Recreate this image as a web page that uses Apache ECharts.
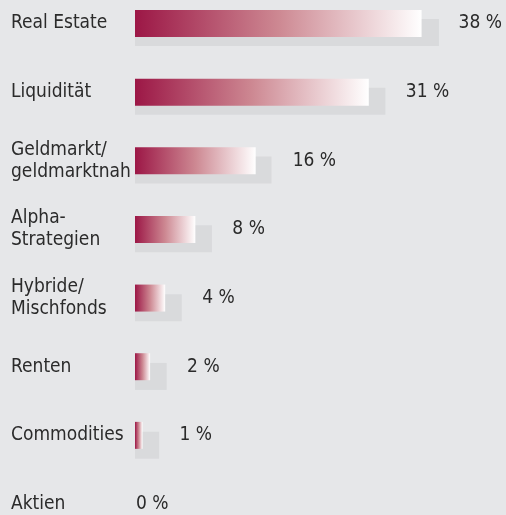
<!DOCTYPE html>
<html>
<head>
<meta charset="utf-8">
<script src="https://cdn.jsdelivr.net/npm/echarts@6/dist/echarts.min.js"></script>
<style>
  html, body { margin: 0; padding: 0; background: #e6e7e9; }
  #chart { width: 506px; height: 515px; }
</style>
</head>
<body>
<div id="chart"></div>
<script>
// categories, top to bottom
const categories = [
  'Real Estate',
  'Liquidität',
  'Geldmarkt/\ngeldmarktnah',
  'Alpha-\nStrategien',
  'Hybride/\nMischfonds',
  'Renten',
  'Commodities',
  'Aktien'
];
// share in percent
const shares = [38, 31, 16, 8, 4, 2, 1, 0];
// where the grey shadow bar ends (same scale)
const shadowEnds = [40.3, 33.2, 18.1, 10.2, 6.2, 4.2, 3.2, 0];

const chart = echarts.init(document.getElementById('chart'));

const textColor = '#2b2b2b';
const font = '"DejaVu Sans Condensed", "DejaVu Sans", sans-serif';

const option = {
  backgroundColor: '#e6e7e9',
  animation: false,
  grid: [
    { left: 135, right: 9, top: 23.5, bottom: 10 },
    { left: 135, right: 9, top: 32.5, bottom: 1 }
  ],
  xAxis: [
    { type: 'value', gridIndex: 0, min: 0, max: 48, show: false },
    { type: 'value', gridIndex: 1, min: 0, max: 48, show: false }
  ],
  yAxis: [
    {
      type: 'category',
      gridIndex: 0,
      inverse: true,
      boundaryGap: false,
      data: categories,
      axisLine: { show: false },
      axisTick: { show: false },
      splitLine: { show: false },
      axisLabel: {
        align: 'left',
        margin: 124,
        color: textColor,
        fontFamily: font,
        fontSize: 19,
        lineHeight: 22
      }
    },
    {
      type: 'category',
      gridIndex: 1,
      inverse: true,
      boundaryGap: false,
      data: categories,
      show: false
    }
  ],
  series: [
    {
      name: 'shadow',
      type: 'bar',
      xAxisIndex: 1,
      yAxisIndex: 1,
      barWidth: 27,
      clip: false,
      z: 1,
      itemStyle: { color: '#d9dadc' },
      data: shadowEnds
    },
    {
      name: 'share',
      type: 'bar',
      xAxisIndex: 0,
      yAxisIndex: 0,
      barWidth: 27,
      clip: false,
      z: 3,
      itemStyle: {
        color: new echarts.graphic.LinearGradient(0, 0, 1, 0, [
          { offset: 0, color: '#9c1746' },
          { offset: 0.5, color: '#cd8892' },
          { offset: 1, color: '#ffffff' }
        ])
      },
      label: {
        show: true,
        position: 'right',
        distance: 37,
        color: textColor,
        fontFamily: font,
        fontSize: 19,
        formatter: p => p.value + ' %'
      },
      data: shares.map(v => v === 0
        ? { value: v, label: { distance: 1 } }
        : v)
    }
  ]
};

chart.setOption(option);
</script>
</body>
</html>
